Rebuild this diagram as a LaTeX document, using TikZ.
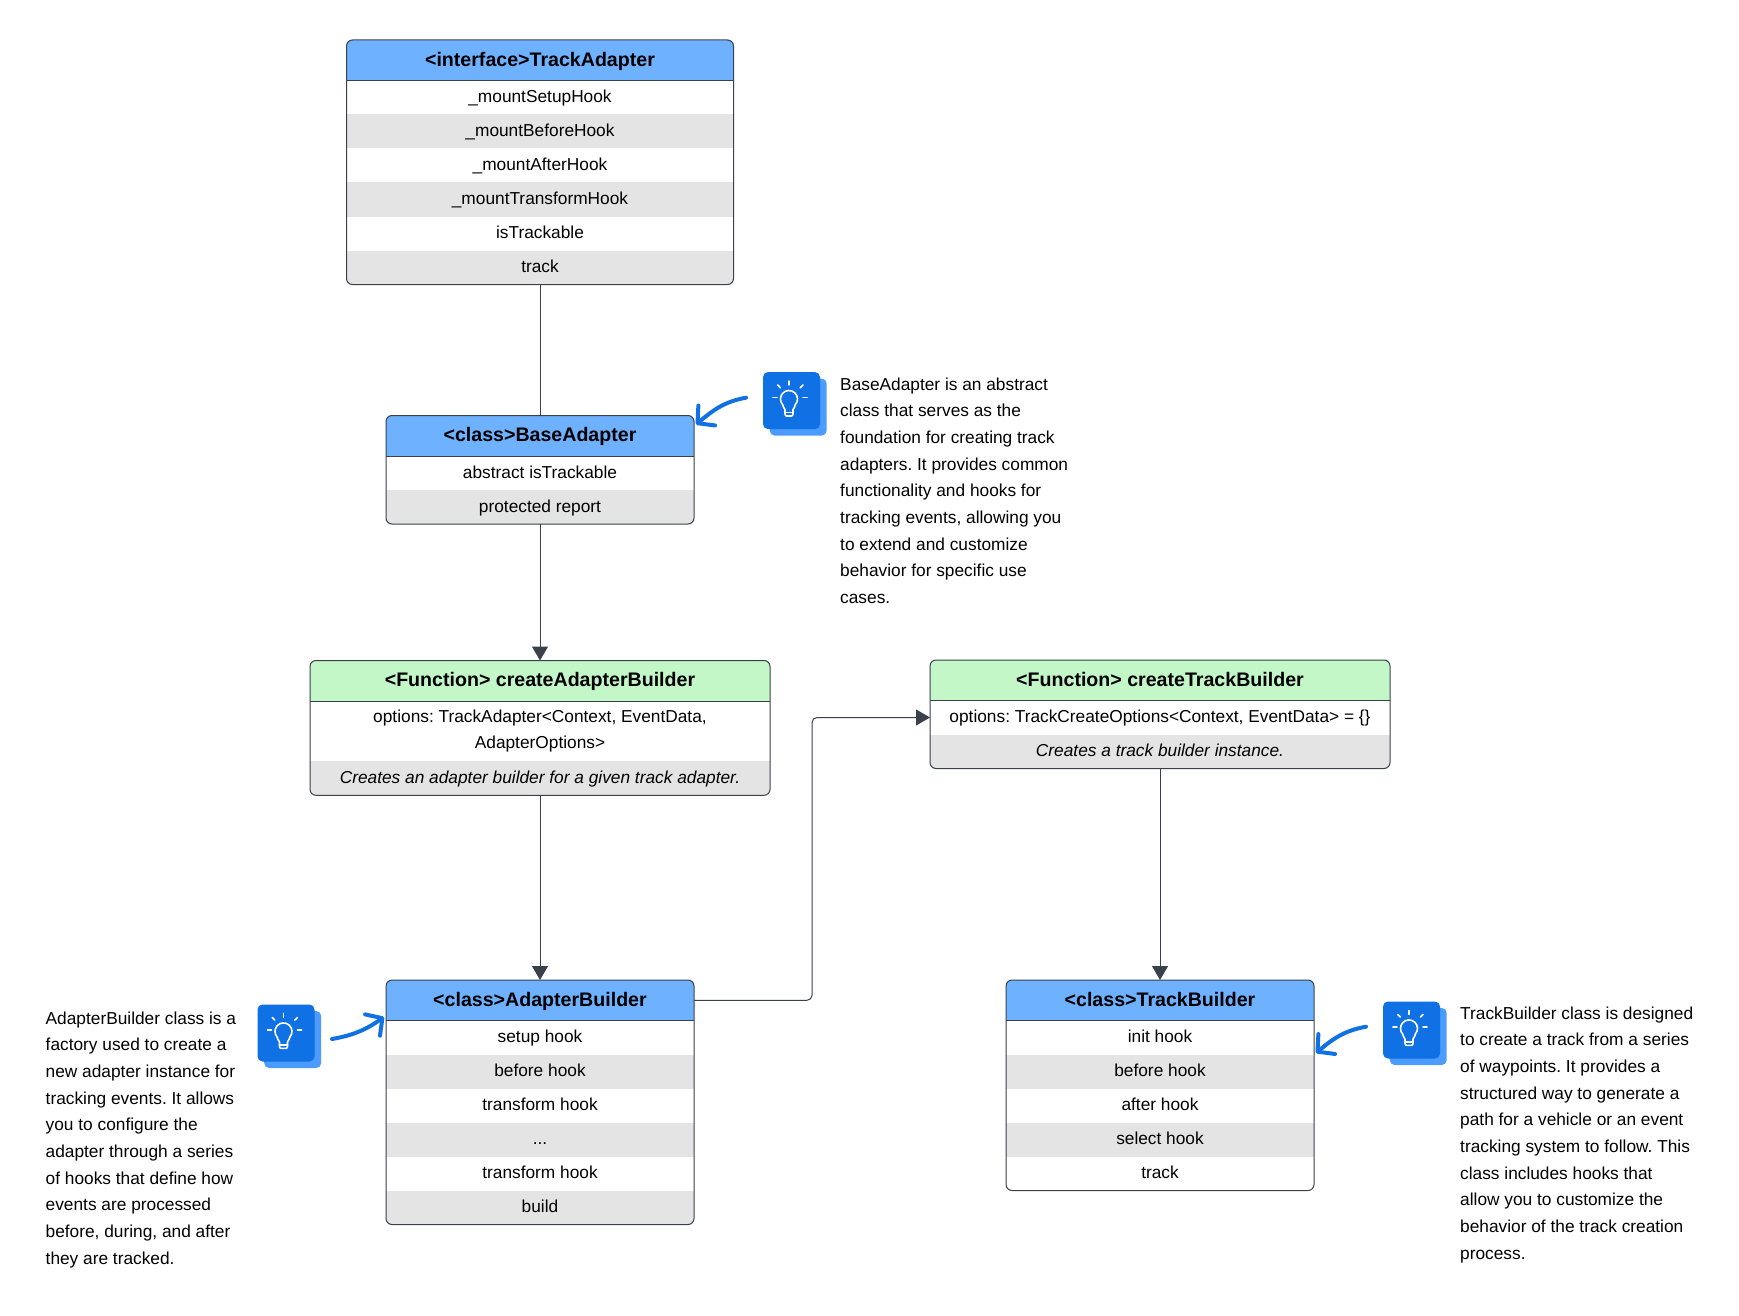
\documentclass[tikz,border=0pt]{standalone}
\usepackage{fontspec}
\setmainfont{Liberation Sans}
\usetikzlibrary{positioning}
\usetikzlibrary{fit}
\usetikzlibrary{arrows.meta}
\definecolor{classblue}{HTML}{6DB1FF}
\definecolor{funcgreen}{HTML}{C3F7C8}
\definecolor{rowgrey}{HTML}{E4E4E4}
\definecolor{linedark}{HTML}{3A414A}
\definecolor{tipblue}{HTML}{1071E5}
\definecolor{tipback}{HTML}{4C9BFF}
\frenchspacing
\tikzset{>={Triangle[length=14pt,width=16pt]}}
\tikzset{head/.style={anchor=north,inner sep=0pt,outer sep=0pt,minimum height=40.5pt,text height=16pt,text depth=4pt,font=\fontsize{19.6}{23}\selectfont\bfseries}}
\tikzset{cell/.style={inner sep=0pt,outer sep=0pt,minimum height=34pt,text height=14pt,text depth=4pt,font=\fontsize{17.3}{26.67}\selectfont}}
\tikzset{cellw/.style={cell,fill=white}}
\tikzset{cellg/.style={cell,fill=rowgrey}}
\tikzset{celltall/.style={inner sep=0pt,outer sep=0pt,minimum height=60.3pt,fill=white,align=center,font=\fontsize{17.3}{26.67}\selectfont}}
\tikzset{frame/.style={draw=linedark,line width=1pt,rounded corners=6pt,inner sep=0pt,outer sep=0pt}}
\tikzset{rule/.style={draw=linedark,line width=1pt}}
\tikzset{link/.style={draw=linedark,line width=1pt}}
\tikzset{note/.style={anchor=north west,inner sep=0pt,align=left,font=\fontsize{17.3}{26.67}\selectfont}}
\tikzset{hint/.style={draw=tipblue,line width=4pt,line cap=round,-{Straight Barb[length=12pt,width=26pt,round]}}}
\tikzset{tipsq/.style={rounded corners=5pt,inner sep=0pt,minimum size=57pt}}
\tikzset{bulbline/.style={draw=white,line width=1.6pt,line cap=round,line join=round}}
\tikzset{bulb/.pic={
    \node[tipsq,fill=tipback] (-back) at (6.7,6.5) {};
    \node[tipsq,fill=tipblue] (-front) at (0,0) {};
    \draw[bulbline] (-5,15.4) -- (0,15.4) to[out=0,in=-90] (1.5,13) -- (1.5,9)
      to[out=90,in=-60] (3.8,4.1) arc[start angle=-42,end angle=222,radius=8.5pt]
      to[out=-120,in=90] (-6.5,9) -- (-6.5,13) to[out=-90,in=180] (-5,15.4);
    \draw[bulbline] (-6.5,12) -- (1.5,12);
    \draw[bulbline] (-2.5,-19.5) -- (-2.5,-15.7);
    \draw[bulbline] (-18.5,-3.3) -- (-14.5,-3.3);
    \draw[bulbline] (11.5,-3.3) -- (15.5,-3.3);
    \draw[bulbline] (-13.8,-15.6) -- (-11.2,-12.9);
    \draw[bulbline] (8.8,-12.9) -- (11.5,-15.6);
}}

\begin{document}
\begin{tikzpicture}[x=1pt,y=-1pt]
        \useasboundingbox (0,0) rectangle (1739,1316);

        % track adapter
        \begin{scope}[minimum width=387pt]
        \clip[rounded corners=6pt] (346.5,40) rectangle (733.5,284.5);
        \node[head,fill=classblue] (ta) at (540,40) {<interface>TrackAdapter};
        \node[cellw,below=0pt of ta] (ta1) {\_mountSetupHook};
        \node[cellg,below=0pt of ta1] (ta2) {\_mountBeforeHook};
        \node[cellw,below=0pt of ta2] (ta3) {\_mountAfterHook};
        \node[cellg,below=0pt of ta3] (ta4) {\_mountTransformHook};
        \node[cellw,below=0pt of ta4] (ta5) {isTrackable};
        \node[cellg,below=0pt of ta5] (ta6) {track};
        \end{scope}
        \node[frame,fit=(ta) (ta6)] (tabox) {};
        \draw[rule] (ta.south west) -- (ta.south east);

        % base adapter
        \begin{scope}[minimum width=308pt]
        \clip[rounded corners=6pt] (386,415.5) rectangle (694,524);
        \node[head,fill=classblue] (ba) at (540,415.5) {<class>BaseAdapter};
        \node[cellw,below=0pt of ba] (ba1) {abstract isTrackable};
        \node[cellg,below=0pt of ba1] (ba2) {protected report};
        \end{scope}
        \node[frame,fit=(ba) (ba2)] (babox) {};
        \draw[rule] (ba.south west) -- (ba.south east);

        % create adapter builder
        \begin{scope}[minimum width=460pt]
        \clip[rounded corners=6pt] (310,660.5) rectangle (770,795.3);
        \node[head,fill=funcgreen] (cab) at (540,660.5) {<Function> createAdapterBuilder};
        \node[celltall,below=0pt of cab] (cab1) {options: TrackAdapter<Context, EventData,\\AdapterOptions>};
        \node[cellg,below=0pt of cab1] (cab2) {\itshape Creates an adapter builder for a given track adapter.};
        \end{scope}
        \node[frame,fit=(cab) (cab2)] (cabbox) {};
        \draw[rule] (cab.south west) -- (cab.south east);

        % create track builder
        \begin{scope}[minimum width=460pt]
        \clip[rounded corners=6pt] (930,660) rectangle (1390,768.5);
        \node[head,fill=funcgreen] (ctb) at (1160,660) {<Function> createTrackBuilder};
        \node[cellw,below=0pt of ctb] (ctb1) {options: TrackCreateOptions<Context, EventData> = \{\}};
        \node[cellg,below=0pt of ctb1] (ctb2) {\itshape Creates a track builder instance.};
        \end{scope}
        \node[frame,fit=(ctb) (ctb2)] (ctbbox) {};
        \draw[rule] (ctb.south west) -- (ctb.south east);

        % adapter builder
        \begin{scope}[minimum width=308pt]
        \clip[rounded corners=6pt] (386,980) rectangle (694,1224.5);
        \node[head,fill=classblue] (ab) at (540,980) {<class>AdapterBuilder};
        \node[cellw,below=0pt of ab] (ab1) {setup hook};
        \node[cellg,below=0pt of ab1] (ab2) {before hook};
        \node[cellw,below=0pt of ab2] (ab3) {transform hook};
        \node[cellg,below=0pt of ab3] (ab4) {...};
        \node[cellw,below=0pt of ab4] (ab5) {transform hook};
        \node[cellg,below=0pt of ab5] (ab6) {build};
        \end{scope}
        \node[frame,fit=(ab) (ab6)] (abbox) {};
        \draw[rule] (ab.south west) -- (ab.south east);

        % track builder
        \begin{scope}[minimum width=308pt]
        \clip[rounded corners=6pt] (1006,980) rectangle (1314,1190.5);
        \node[head,fill=classblue] (tb) at (1160,980) {<class>TrackBuilder};
        \node[cellw,below=0pt of tb] (tb1) {init hook};
        \node[cellg,below=0pt of tb1] (tb2) {before hook};
        \node[cellw,below=0pt of tb2] (tb3) {after hook};
        \node[cellg,below=0pt of tb3] (tb4) {select hook};
        \node[cellw,below=0pt of tb4] (tb5) {track};
        \end{scope}
        \node[frame,fit=(tb) (tb5)] (tbbox) {};
        \draw[rule] (tb.south west) -- (tb.south east);

        \draw[link] (tabox) -- (babox);
        \draw[link,->] (babox) -- (cabbox);
        \draw[link,->] (cabbox) -- (abbox);
        \draw[link,->] (ctbbox) -- (tbbox);
        \draw[link,->,rounded corners=5pt] (abbox.east |- ab.east) -- ++(118,0) |- (ctb1.west);

        \pic (baseTip) at (791.5,400.6) {bulb};
        \pic (builderTip) at (286,1033) {bulb};
        \pic (trackTip) at (1411.5,1030) {bulb};

        \coordinate (baseTail) at (746,397.7);
        \coordinate (builderTail) at (332,1039);
        \coordinate (trackTail) at (1366,1026.7);
        \draw[hint] (baseTail) to[out=190,in=40] ([xshift=2pt,yshift=-9pt]ba.north east);
        \draw[hint] (builderTail) to[out=10,in=215] ([xshift=-2pt,yshift=-37pt]ab.north west);
        \draw[hint] (trackTail) to[out=190,in=40] ([xshift=2pt,yshift=1.5pt]tb1.south east);

        \node[note] (baseNote) at (840,377.5) {BaseAdapter is an abstract\\class that serves as the\\foundation for creating track\\adapters. It provides common\\functionality and hooks for\\tracking events, allowing you\\to extend and customize\\behavior for specific use\\cases.};
        \node[note] (builderNote) at (45.5,1011.5) {AdapterBuilder class is a\\factory used to create a\\new adapter instance for\\tracking events. It allows\\you to configure the\\adapter through a series\\of hooks that define how\\events are processed\\before, during, and after\\they are tracked.};
        \node[note] (trackNote) at (1460,1006.5) {TrackBuilder class is designed\\to create a track from a series\\of waypoints. It provides a\\structured way to generate a\\path for a vehicle or an event\\tracking system to follow. This\\class includes hooks that\\allow you to customize the\\behavior of the track creation\\process.};
\end{tikzpicture}
\end{document}
